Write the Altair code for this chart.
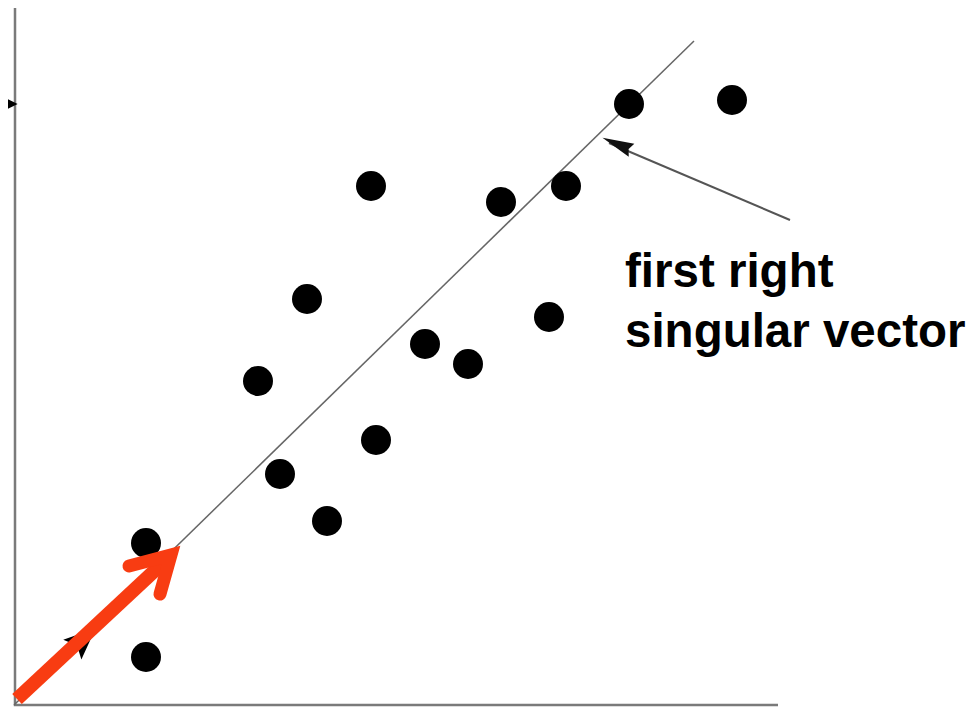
import altair as alt
import pandas as pd

# data points (data units)
pts_x = [13.2, 13.2, 24.4, 26.6, 29.3, 31.3, 35.7, 36.2, 41.1, 45.4, 48.7, 53.5, 55.2, 61.5, 71.8]
pts_y = [16.0, 4.6, 32.2, 22.9, 40.4, 18.2, 51.7, 26.3, 35.9, 33.9, 50.1, 38.6, 51.7, 59.9, 60.3]

# axes lines
axis_x = [0.1, 0.1, 76.4]
axis_y = [69.6, -0.2, -0.2]

# singular vector direction line
dir_x = [0.0, 68.0]
dir_y = [-0.2, 66.2]

# red arrow: shaft and head
shaft_x = [0.3, 15.1]
shaft_y = [0.4, 14.2]
head_x = [11.5, 15.7, 14.6]
head_y = [13.7, 14.8, 10.9]

# small black arrowhead under red arrow
small_head = {"x": [7.0], "y": [6.4]}

# annotation arrow
ann_x = [77.6, 59.5]
ann_y = [48.3, 56.0]
ann_head = {"x": [60.3], "y": [55.9]}

# left axis marker
marker = {"x": [-0.25], "y": [59.9]}

labels = ["first right", "singular vector"]
label_x = [61.1, 61.1]
label_y = [41.6, 35.6]

xs = alt.Scale(domain=[0, 95.2], nice=False, zero=False)
ys = alt.Scale(domain=[-0.4, 69.5], nice=False, zero=False)
X = lambda: alt.X("x:Q", scale=xs, axis=None)
Y = lambda: alt.Y("y:Q", scale=ys, axis=None)

def seq(xv, yv):
    return pd.DataFrame({"x": xv, "y": yv, "o": list(range(len(xv)))})

axes = alt.Chart(seq(axis_x, axis_y)).mark_line(color="#7a7a7a", strokeWidth=2.5).encode(
    x=X(), y=Y(), order="o:Q")

dirline = alt.Chart(seq(dir_x, dir_y)).mark_line(color="#666666", strokeWidth=1.5).encode(
    x=X(), y=Y(), order="o:Q")

points = alt.Chart(pd.DataFrame({"x": pts_x, "y": pts_y})).mark_circle(
    size=900, color="black", opacity=1).encode(x=X(), y=Y())

sh = alt.Chart(pd.DataFrame(small_head)).mark_point(
    shape="M-1,0L1,-0.85L0.6,0L1,0.85Z", size=1000, filled=True, color="black",
    opacity=1, angle=137.6).encode(x=X(), y=Y())

red_shaft = alt.Chart(seq(shaft_x, shaft_y)).mark_line(
    color="#F83C12", strokeWidth=14, strokeCap="butt").encode(x=X(), y=Y(), order="o:Q")
red_head = alt.Chart(seq(head_x, head_y)).mark_line(
    color="#F83C12", strokeWidth=13, strokeCap="round", strokeJoin="miter").encode(
    x=X(), y=Y(), order="o:Q")

ann = alt.Chart(seq(ann_x, ann_y)).mark_line(color="#555555", strokeWidth=2).encode(
    x=X(), y=Y(), order="o:Q")
annh = alt.Chart(pd.DataFrame(ann_head)).mark_point(
    shape="M-1,0L1,-0.45L0.8,0L1,0.45Z", size=1000, filled=True, color="#111111",
    opacity=1, angle=23.2).encode(x=X(), y=Y())

mk = alt.Chart(pd.DataFrame(marker)).mark_point(
    shape="M-1,-1L1,0L-1,1Z", size=150, filled=True, color="black", opacity=1).encode(x=X(), y=Y())

text = alt.Chart(pd.DataFrame({"x": label_x, "y": label_y, "t": labels})).mark_text(
    font="Liberation Sans", fontWeight="bold", fontSize=47.5, align="left",
    baseline="alphabetic", color="black").encode(x=X(), y=Y(), text="t:N")

chart = alt.layer(axes, dirline, points, sh, red_shaft, red_head, ann, annh, mk, text).properties(
    width=952, height=699,
    padding={"left": 6, "top": 0, "right": 0, "bottom": 0},
    autosize=alt.AutoSizeParams(type="none"),
).configure_view(stroke=None)

chart.save("out.html", embed_options={"renderer": "svg", "actions": False})
